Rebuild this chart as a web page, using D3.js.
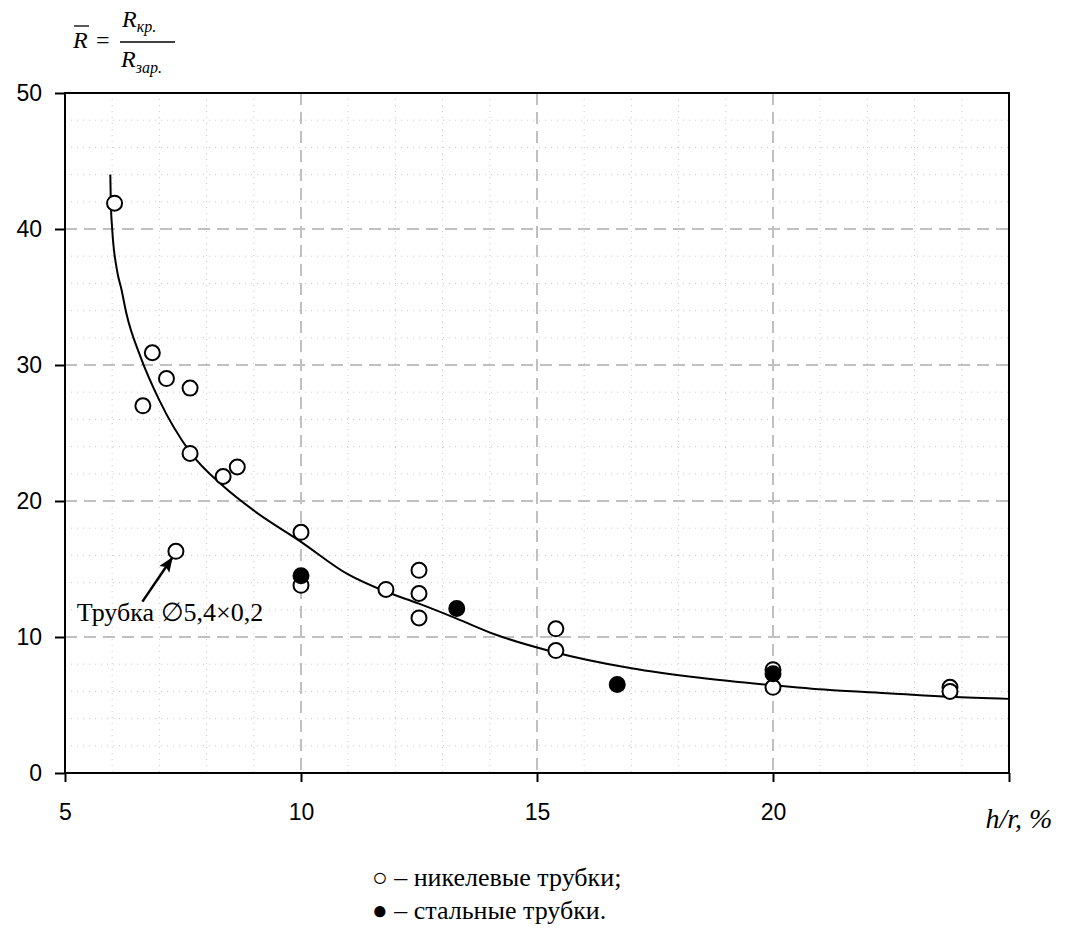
<!DOCTYPE html>
<html>
<head>
<meta charset="utf-8">
<script src="https://cdn.jsdelivr.net/npm/d3@7"></script>
<style>
  body { margin: 0; background: #fff; }
  svg { display: block; }
</style>
</head>
<body>
<svg id="chart" width="1073" height="935"></svg>
<script>
// nickel tubes (open circles)
var nickelX = [6.05, 6.85, 6.65, 7.15, 7.65, 7.65, 8.35, 8.65, 7.35, 10.0, 10.0, 11.8, 12.5, 12.5, 12.5, 15.4, 15.4, 20.0, 20.0, 23.75, 23.75];
var nickelY = [41.9, 30.9, 27.0, 29.0, 28.3, 23.5, 21.8, 22.5, 16.3, 17.7, 13.8, 13.5, 14.9, 13.2, 11.4, 10.6, 9.0, 7.6, 6.3, 6.3, 6.0];
// steel tubes (filled circles)
var steelX = [10.0, 13.3, 16.7, 20.0];
var steelY = [14.5, 12.1, 6.5, 7.3];
// fitted curve
var curveX = [5.96, 5.97, 6.0, 6.1, 6.2, 6.3, 6.6, 7.0, 7.65, 8.35, 9.0, 10.0, 11.0, 11.75, 12.5, 13.3, 14.1, 15.35, 17.0, 18.45, 20.0, 21.2, 22.5, 23.75, 25.0];
var curveY = [44.0, 42.0, 40.0, 37.0, 35.5, 33.8, 30.6, 27.4, 23.6, 21.1, 19.3, 17.0, 14.6, 13.4, 12.45, 11.35, 10.2, 8.9, 7.7, 7.0, 6.45, 6.1, 5.85, 5.6, 5.45];
var xTicks = [5, 10, 15, 20];
var yTicks = [0, 10, 20, 30, 40, 50];
var xLabel = "h/r, %";
var noteText = "Трубка \u22055,4\u00d70,2";
var notePoint = [7.35, 16.3];
var legendItems = ["\u25cb \u2013 никелевые трубки;", "\u25cf \u2013 стальные трубки."];

var margin = {top: 93, left: 65},
    width = 944,
    height = 680;

var serif = "Liberation Serif, Times New Roman, serif";
var sans = "Liberation Sans, Arial, sans-serif";

var svg = d3.select("#chart");
var g = svg.append("g").attr("transform", "translate(" + margin.left + "," + margin.top + ")");

var x = d3.scaleLinear().domain([5, 25]).range([0, width]);
var y = d3.scaleLinear().domain([0, 50]).range([height, 0]);

// minor grid (dotted)
var minorX = d3.range(6, 25).filter(function(v) { return v % 5 !== 0; });
var minorY = d3.range(2, 50, 2).filter(function(v) { return v % 10 !== 0; });

g.selectAll(".minorX").data(minorX).enter().append("line")
    .attr("x1", function(d) { return x(d); }).attr("x2", function(d) { return x(d); })
    .attr("y1", 0).attr("y2", height)
    .attr("stroke", "#c8c8c8").attr("stroke-width", 1).attr("stroke-dasharray", "1,5");
g.selectAll(".minorY").data(minorY).enter().append("line")
    .attr("x1", 0).attr("x2", width)
    .attr("y1", function(d) { return y(d); }).attr("y2", function(d) { return y(d); })
    .attr("stroke", "#c8c8c8").attr("stroke-width", 1).attr("stroke-dasharray", "1,5");

// major grid (dashed)
g.selectAll(".majorX").data([10, 15, 20]).enter().append("line")
    .attr("x1", function(d) { return x(d); }).attr("x2", function(d) { return x(d); })
    .attr("y1", 0).attr("y2", height)
    .attr("stroke", "#c0c0c0").attr("stroke-width", 2).attr("stroke-dasharray", "12,7");
g.selectAll(".majorY").data([10, 20, 30, 40]).enter().append("line")
    .attr("x1", 0).attr("x2", width)
    .attr("y1", function(d) { return y(d); }).attr("y2", function(d) { return y(d); })
    .attr("stroke", "#c0c0c0").attr("stroke-width", 2).attr("stroke-dasharray", "12,7");

// frame
g.append("rect").attr("width", width).attr("height", height)
    .attr("fill", "none").attr("stroke", "#000").attr("stroke-width", 2);

// axes
var axisX = d3.axisBottom(x).tickValues(xTicks.concat([25])).tickSize(9).tickFormat(function(d) { return d === 25 ? "" : d; });
var axisY = d3.axisLeft(y).tickValues(yTicks).tickSize(10);

var gx = g.append("g").attr("transform", "translate(0," + height + ")").call(axisX);
var gy = g.append("g").call(axisY);
[gx, gy].forEach(function(a) {
    a.select(".domain").remove();
    a.selectAll("line").attr("stroke", "#000").attr("stroke-width", 2);
    a.selectAll("text").attr("fill", "#000")
        .style("font-family", sans).style("font-size", "23px");
});
gx.selectAll("text").attr("y", 47).attr("dy", 0);
gy.selectAll("text").attr("x", -23);

// curve
var line = d3.line()
    .x(function(d) { return x(d[0]); })
    .y(function(d) { return y(d[1]); })
    .curve(d3.curveMonotoneX);
g.append("path")
    .datum(curveX.map(function(v, i) { return [v, curveY[i]]; }))
    .attr("d", line)
    .attr("fill", "none").attr("stroke", "#000").attr("stroke-width", 2);

// points
var open = nickelX.map(function(v, i) { return [v, nickelY[i]]; });
var filled = steelX.map(function(v, i) { return [v, steelY[i]]; });

g.selectAll(".nickel").data(open).enter().append("circle")
    .attr("cx", function(d) { return x(d[0]); })
    .attr("cy", function(d) { return y(d[1]); })
    .attr("r", 7.5)
    .attr("fill", "#fff").attr("stroke", "#000").attr("stroke-width", 2);
g.selectAll(".steel").data(filled).enter().append("circle")
    .attr("cx", function(d) { return x(d[0]); })
    .attr("cy", function(d) { return y(d[1]); })
    .attr("r", 7.5)
    .attr("fill", "#000").attr("stroke", "#000").attr("stroke-width", 2);

// annotation with arrow
svg.append("defs").append("marker")
    .attr("id", "arr").attr("viewBox", "0 0 10 10").attr("refX", 9).attr("refY", 5)
    .attr("markerWidth", 6).attr("markerHeight", 6).attr("orient", "auto")
    .append("path").attr("d", "M0,1 L10,5 L0,9 L2,5 Z").attr("fill", "#000");

g.append("line")
    .attr("x1", x(6.64)).attr("y1", y(12.6))
    .attr("x2", x(notePoint[0]) - 4).attr("y2", y(notePoint[1]) + 7)
    .attr("stroke", "#000").attr("stroke-width", 2.5)
    .attr("marker-end", "url(#arr)");

g.append("text")
    .attr("x", x(5.25)).attr("y", y(11.2))
    .style("font-family", serif)
    .style("font-size", "26px")
    .text(noteText);

// axis title
g.append("text")
    .attr("x", width + 10).attr("y", height + 55)
    .attr("text-anchor", "middle")
    .style("font-family", serif)
    .style("font-size", "28px").style("font-style", "italic")
    .text(xLabel);

// formula  R̄ = R_кр. / R_зар.
var f = svg.append("g").style("font-family", serif).style("font-style", "italic");
f.append("text").attr("x", 73).attr("y", 48).style("font-size", "24px").text("R");
f.append("line").attr("x1", 74).attr("x2", 89).attr("y1", 26).attr("y2", 26).attr("stroke", "#000").attr("stroke-width", 1.3);
f.append("text").attr("x", 96).attr("y", 48).style("font-size", "24px").style("font-style", "normal").text("=");
f.append("line").attr("x1", 120).attr("x2", 175).attr("y1", 42).attr("y2", 42).attr("stroke", "#000").attr("stroke-width", 1.3);
var num = f.append("text").attr("x", 122).attr("y", 27).style("font-size", "24px");
num.append("tspan").text("R");
num.append("tspan").attr("dy", 5).style("font-size", "16px").text("кр.");
var den = f.append("text").attr("x", 121).attr("y", 67).style("font-size", "24px");
den.append("tspan").text("R");
den.append("tspan").attr("dy", 6).style("font-size", "16px").text("зар.");

// legend
svg.selectAll(".legend").data(legendItems).enter().append("text")
    .attr("x", 372).attr("y", function(d, i) { return 886 + i * 33; })
    .style("font-family", serif).style("font-size", "26px")
    .text(function(d) { return d; });
</script>
</body>
</html>
